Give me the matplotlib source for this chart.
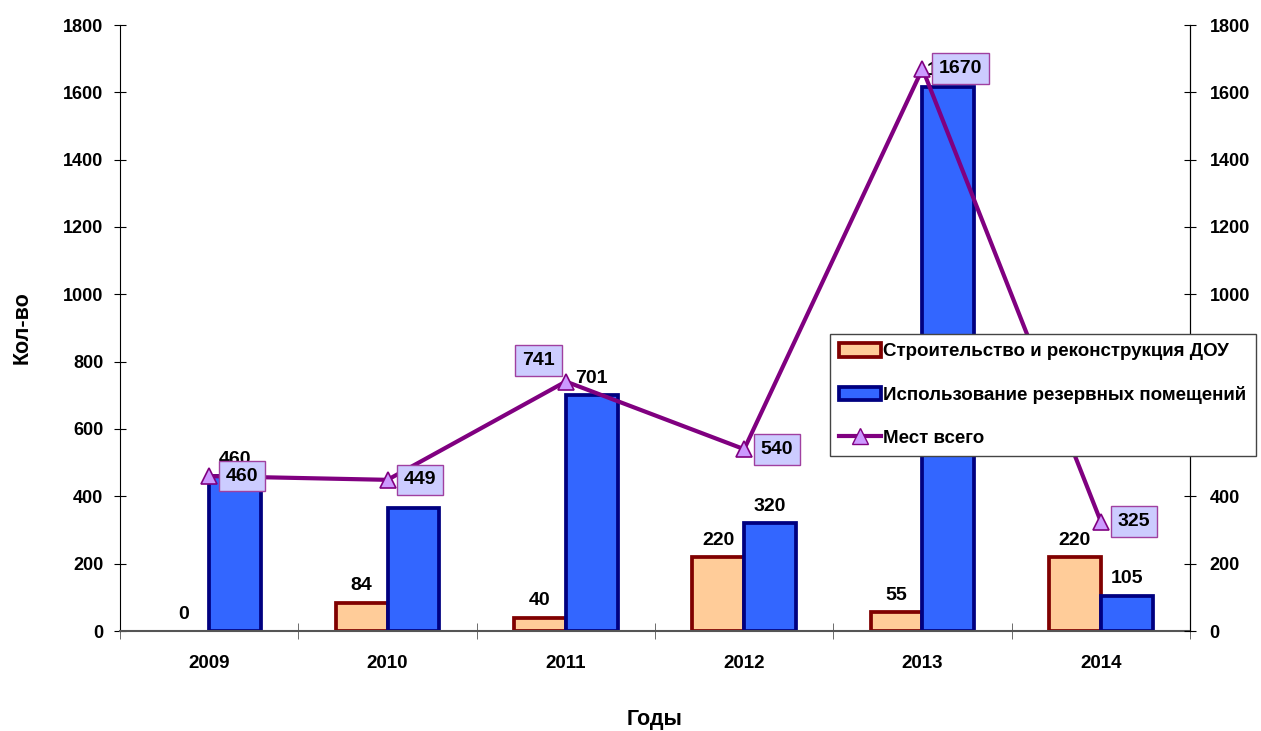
import matplotlib
matplotlib.use("Agg")
from matplotlib import pyplot as plt
from matplotlib.patches import Patch
from matplotlib.lines import Line2D
import numpy as np

years = ["2009", "2010", "2011", "2012", "2013", "2014"]
stroy = [0, 84, 40, 220, 55, 220]
rezerv = [460, 365, 701, 320, 1615, 105]
vsego = [460, 449, 741, 540, 1670, 325]

plt.rcParams['font.family'] = ['Liberation Sans', 'DejaVu Sans']
plt.rcParams['font.weight'] = 'bold'

fig = plt.figure(figsize=(12.61, 7.31), dpi=100)
ax = fig.add_axes([120/1261, 1 - 631/731, 1070/1261, 606/731])

x = np.arange(len(years))
w = 0.29

b1 = ax.bar(x - w/2, stroy, w, color="#FFCC99", edgecolor="#800000", linewidth=2.7, zorder=2)
b2 = ax.bar(x + w/2, rezerv, w, color="#3366FF", edgecolor="#000080", linewidth=2.7, zorder=2)
# zero bars drawn without outline
for bar, v in zip(b1, stroy):
    if v == 0:
        bar.set_linewidth(0)

for i in range(len(years)):
    ax.annotate(str(stroy[i]), (x[i] - w/2, stroy[i]), xytext=(0, 6), textcoords="offset points",
                ha="center", va="bottom", fontsize=14, fontweight="bold", zorder=3)
    ax.annotate(str(rezerv[i]), (x[i] + w/2, rezerv[i]), xytext=(0, 6), textcoords="offset points",
                ha="center", va="bottom", fontsize=14, fontweight="bold", zorder=3)

ax.plot(x, vsego, color="#800080", linewidth=3, marker="^", markersize=12,
        markerfacecolor="#CC99FF", markeredgecolor="#800080", markeredgewidth=1.2, zorder=4)

box = dict(boxstyle="square,pad=0.35", facecolor="#CCCCFF", edgecolor="#A040A0", linewidth=1)
for i in range(len(years)):
    if i == 2:
        off, ha, va = (-8, 9), "right", "bottom"
    else:
        off, ha, va = (12, 0), "left", "center"
    ax.annotate(str(vsego[i]), (x[i], vsego[i]), xytext=off, textcoords="offset points",
                ha=ha, va=va, fontsize=14, fontweight="bold", bbox=box, zorder=6)

ax.set_xlim(-0.5, 5.5)
ax.set_ylim(0, 1800)
ax.set_yticks(range(0, 1801, 200))
ax.set_xticks(x)
ax.set_xticklabels(years)
ax.set_xticks(np.arange(-0.5, 6, 1), minor=True)
ax.tick_params(axis="x", which="major", length=0, pad=17, labelsize=13.5)
ax.tick_params(axis="x", which="minor", direction="inout", length=12, color="#555555")
ax.tick_params(axis="y", direction="inout", length=8, pad=8, labelsize=13)
for lab in ax.get_xticklabels() + ax.get_yticklabels():
    lab.set_fontweight("bold")

ax.spines["top"].set_visible(False)
ax.spines["bottom"].set_color("#555555")
ax.spines["bottom"].set_linewidth(1.5)

ax.set_xlabel("Годы", fontsize=15.5, fontweight="bold", labelpad=27)
ax.set_ylabel("Кол-во", fontsize=15.5, fontweight="bold", labelpad=22)

ax2 = ax.twinx()
ax2.set_ylim(0, 1800)
ax2.set_yticks(range(0, 1801, 200))
ax2.tick_params(axis="y", direction="inout", length=8, pad=10, labelsize=13)
for lab in ax2.get_yticklabels():
    lab.set_fontweight("bold")
ax2.spines["top"].set_visible(False)
ax2.spines["bottom"].set_visible(False)
ax2.spines["left"].set_visible(False)

handles = [
    Patch(facecolor="#FFCC99", edgecolor="#800000", linewidth=2.7),
    Patch(facecolor="#3366FF", edgecolor="#000080", linewidth=2.7),
    Line2D([0], [0], color="#800080", linewidth=3, marker="^", markersize=11,
           markerfacecolor="#CC99FF", markeredgecolor="#800080"),
]
labels = ["Строительство и реконструкция ДОУ", "Использование резервных помещений", "Мест всего"]
leg = fig.legend(handles, labels, loc="upper left", bbox_to_anchor=(830/1261, 1 - 334/731),
                 fancybox=False, framealpha=1, edgecolor="#444444",
                 prop={"weight": "bold", "size": 13.5}, labelspacing=1.36,
                 handlelength=2.2, handletextpad=0.15, borderpad=0.5, borderaxespad=0)
leg.set_zorder(10)

fig.savefig("out.png", dpi=100)
